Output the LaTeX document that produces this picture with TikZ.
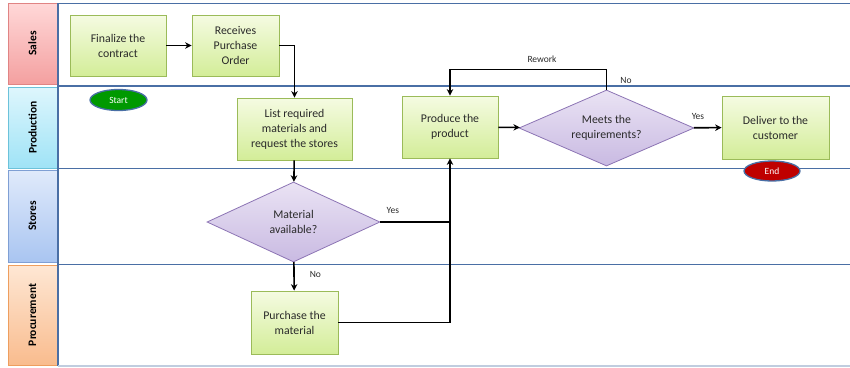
\documentclass[tikz,border=0pt]{standalone}
\usepackage{fontspec}
\setmainfont{Carlito}
\usetikzlibrary{shapes.geometric,arrows.meta,shadows}

\definecolor{laneline}{HTML}{4A6FA5}
\definecolor{boxtop}{HTML}{F5FBE2}
\definecolor{boxbot}{HTML}{D3ED98}
\definecolor{boxedge}{HTML}{9BBB59}
\definecolor{dtop}{HTML}{EAE3F4}
\definecolor{dbot}{HTML}{C9BAE2}
\definecolor{dedge}{HTML}{8C74B4}
\definecolor{txt}{HTML}{2A2A2A}
% lane header colours
\definecolor{salestop}{HTML}{FFD8D8}
\definecolor{salesbot}{HTML}{F4A0A0}
\definecolor{salesedge}{HTML}{E08484}
\definecolor{prodtop}{HTML}{DEF6FD}
\definecolor{prodbot}{HTML}{9FE3F6}
\definecolor{prodedge}{HTML}{6CC2DA}
\definecolor{storetop}{HTML}{E0EAFB}
\definecolor{storebot}{HTML}{A9C5F1}
\definecolor{storeedge}{HTML}{7F9FD4}
\definecolor{proctop}{HTML}{FEE7D4}
\definecolor{procbot}{HTML}{F9BC8E}
\definecolor{procedge}{HTML}{EE9E5E}

\tikzset{
  stepbox/.style={rectangle, draw=boxedge, line width=0.8pt, top color=boxtop, bottom color=boxbot,
    text=txt, align=center, font=\fontsize{11.8}{15}\selectfont, inner sep=2pt,
    drop shadow={shadow xshift=1.2pt, shadow yshift=-1.2pt, opacity=0.25}},
  decision/.style={diamond, aspect=2.2, draw=dedge, line width=0.8pt, top color=dtop, bottom color=dbot,
    text=txt, align=center, font=\fontsize{11.8}{15}\selectfont, inner sep=0pt},
  terminal/.style={ellipse, draw=laneline, line width=1.3pt, text=white,
    font=\fontsize{9.5}{11}\selectfont, minimum width=57pt, minimum height=21pt, inner sep=0pt},
  lanelabel/.style={rectangle, line width=0.9pt, minimum width=49pt},
  lanetext/.style={rotate=90, text=black, font=\fontsize{11.5}{13}\bfseries\selectfont},
  flow/.style={line width=1.6pt, -{Stealth[length=6.5pt,width=6.5pt]}},
  plain/.style={line width=1.6pt},
  note/.style={font=\fontsize{9.5}{11}\selectfont, text=txt, inner sep=1pt},
  lane/.style={laneline, line width=1.4pt}
}

\begin{document}
\begin{tikzpicture}[x=1pt, y=-1pt]
\useasboundingbox (0,0) rectangle (850,367);

% lane headers
\node[lanelabel, draw=salesedge, top color=salestop, bottom color=salesbot, minimum height=81pt] (lsales) at (32.5,43.5) {};
\node[lanetext] at (lsales) {Sales};
\node[lanelabel, draw=prodedge, top color=prodtop, bottom color=prodbot, minimum height=81pt] (lprod) at (32.5,127.5) {};
\node[lanetext] at (lprod) {Production};
\node[lanelabel, draw=storeedge, top color=storetop, bottom color=storebot, minimum height=92pt] (lstore) at (32.5,216) {};
\node[lanetext] at (lstore) {Stores};
\node[lanelabel, draw=procedge, top color=proctop, bottom color=procbot, minimum height=100pt] (lproc) at (32.5,315) {};
\node[lanetext] at (lproc) {Procurement};

% swimlane frame
\draw[lane] (850,3.5) -- (58,3.5) -- (58,366);
\draw[lane] (58,86) -- (850,86);
\draw[lane] (58,168.5) -- (850,168.5);
\draw[lane] (58,264.5) -- (850,264.5);
\draw[laneline!35, line width=1.4pt] (58,366) -- (850,366);

% process steps
\node[stepbox, minimum width=96pt, minimum height=61pt] (fin) at (118,45.5) {Finalize the\\contract};
\node[stepbox, minimum width=87pt, minimum height=61pt] (rec) at (235.5,45.5) {Receives\\Purchase\\Order};
\node[stepbox, minimum width=115pt, minimum height=62pt] (list) at (294.5,129) {List required\\materials and\\request the stores};
\node[stepbox, minimum width=87pt, minimum height=63pt] (pur) at (294.5,322.5) {Purchase the\\material};
\node[stepbox, minimum width=96pt, minimum height=62pt] (prod) at (450,127) {Produce the\\product};
\node[stepbox, minimum width=107pt, minimum height=63pt] (del) at (775.5,127.5) {Deliver to the\\customer};

% decisions
\node[decision, minimum width=173pt, minimum height=80pt] (mat) at (293.5,222) {Material\\available?};
\node[decision, minimum width=175pt, minimum height=76pt] (meets) at (606.5,128) {Meets the\\requirements?};

% terminals
\node[terminal, fill=green!60!black] (start) at (118.5,100) {Start};
\node[terminal, fill=red!75!black, minimum width=56pt, minimum height=20pt] (end) at (772,171) {End};

% connectors
\draw[flow] (fin) -- (rec);
\draw[flow] (rec.east) -| (list.north);
\draw[flow] (list) -- (mat);
\draw[flow] (mat) -- (pur) node[note, pos=0.42, right=14pt] {No};
\draw[plain] (mat.east) -- (mat.east -| prod.south) node[note, pos=0.18, above=7pt] {Yes};
\draw[flow] (pur.east) -| (prod.south);
\draw[flow] (prod) -- (meets);
\draw[flow] (meets.north) -- ++(0,-20) -| (prod.north);
\node[note] at (542,59) {Rework};
\node[note] at (626,80) {No};
\draw[flow] (meets) -- (del) node[note, pos=0.15, above=6pt] {Yes};
\end{tikzpicture}
\end{document}
